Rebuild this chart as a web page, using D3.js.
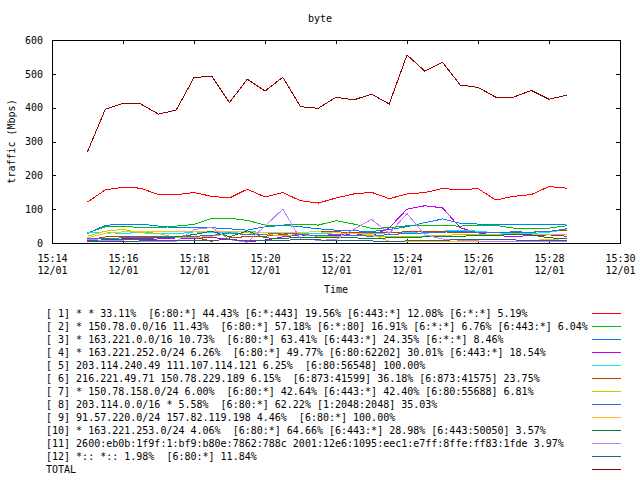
<!DOCTYPE html>
<html>
<head>
<meta charset="utf-8">
<script src="https://cdn.jsdelivr.net/npm/d3@7"></script>
<style>
  body { margin: 0; background: #fff; }
  svg { display: block; font-family: "DejaVu Sans Mono", monospace; font-size: 10px; }
  text { white-space: pre; }
</style>
</head>
<body>
<svg id="chart"></svg>
<script>
// Chart dimensions
const width = 640;
const height = 480;
const margin = { left: 52, right: 20, top: 40, bottom: 237 };

// sample times (12/01)
const times = [
  "15:15:00", "15:15:30", "15:16:00", "15:16:30", "15:17:00", "15:17:30", "15:18:00",
  "15:18:30", "15:19:00", "15:19:30", "15:20:00", "15:20:30", "15:21:00", "15:21:30",
  "15:22:00", "15:22:30", "15:23:00", "15:23:30", "15:24:00", "15:24:30", "15:25:00",
  "15:25:30", "15:26:00", "15:26:30", "15:27:00", "15:27:30", "15:28:00", "15:28:30"
];

// traffic values (Mbps)
const s1 = [121, 157, 165, 162, 143, 143, 149, 138, 133, 159, 136, 149, 125, 118, 133, 145, 150, 131, 145, 149, 161, 157, 161, 127, 138, 143, 167, 162];
const s2 = [30, 48, 50, 45, 45, 50, 55, 73, 73, 67, 53, 53, 56, 53, 66, 56, 43, 45, 51, 51, 51, 50, 52, 52, 44, 43, 44, 51];
const s3 = [28, 52, 56, 56, 50, 45, 47, 45, 42, 38, 48, 52, 48, 42, 38, 36, 34, 40, 48, 60, 71, 58, 56, 56, 56, 56, 56, 53];
const s4 = [8, 9, 9, 9, 12, 15, 14, 16, 12, 4, 8, 18, 24, 20, 22, 28, 20, 45, 100, 110, 104, 45, 30, 22, 19, 22, 24, 20];
const s5 = [30, 33, 27, 33, 28, 27, 33, 30, 30, 35, 30, 28, 28, 28, 30, 28, 28, 30, 32, 28, 35, 38, 35, 30, 28, 28, 32, 40];
const s6 = [8, 18, 20, 20, 20, 19, 18, 5, 15, 19, 20, 25, 30, 35, 33, 31, 30, 31, 33, 33, 33, 31, 31, 30, 30, 32, 35, 38];
const s7 = [20, 35, 40, 30, 28, 16, 16, 20, 28, 30, 25, 22, 25, 20, 20, 22, 22, 18, 18, 20, 22, 25, 25, 25, 25, 25, 25, 25];
const s8 = [12, 14, 15, 15, 18, 20, 20, 22, 30, 24, 26, 30, 25, 22, 25, 22, 20, 25, 28, 30, 32, 35, 32, 30, 33, 32, 34, 42];
const s9 = [15, 28, 33, 33, 33, 33, 35, 35, 33, 33, 30, 30, 32, 33, 30, 28, 25, 5, 4, 3, 3, 3, 3, 4, 5, 8, 10, 8];
const s10 = [5, 10, 12, 14, 15, 18, 25, 35, 18, 36, 15, 14, 16, 17, 16, 15, 14, 15, 16, 18, 20, 20, 22, 22, 26, 24, 15, 14];
const s11 = [10, 8, 6, 4, 3, 5, 40, 46, 10, 2, 50, 100, 12, 8, 10, 40, 70, 28, 87, 24, 12, 8, 6, 4, 4, 3, 3, 4];
const s12 = [3, 4, 5, 6, 6, 6, 8, 8, 10, 6, 6, 8, 10, 9, 8, 8, 6, 5, 6, 6, 8, 10, 10, 10, 9, 8, 8, 8];
const total = [270, 395, 413, 411, 381, 393, 489, 493, 415, 484, 449, 490, 403, 398, 431, 423, 440, 411, 556, 508, 534, 467, 460, 431, 431, 451, 425, 437];

// legend labels
const labels = [
  "[ 1] * * 33.11%  [6:80:*] 44.43% [6:*:443] 19.56% [6:443:*] 12.08% [6:*:*] 5.19%",
  "[ 2] * 150.78.0.0/16 11.43%  [6:80:*] 57.18% [6:*:80] 16.91% [6:*:*] 6.76% [6:443:*] 6.04%",
  "[ 3] * 163.221.0.0/16 10.73%  [6:80:*] 63.41% [6:443:*] 24.35% [6:*:*] 8.46%",
  "[ 4] * 163.221.252.0/24 6.26%  [6:80:*] 49.77% [6:80:62202] 30.01% [6:443:*] 18.54%",
  "[ 5] 203.114.240.49 111.107.114.121 6.25%  [6:80:56548] 100.00%",
  "[ 6] 216.221.49.71 150.78.229.189 6.15%  [6:873:41599] 36.18% [6:873:41575] 23.75%",
  "[ 7] * 150.78.158.0/24 6.00%  [6:80:*] 42.64% [6:443:*] 42.40% [6:80:55688] 6.81%",
  "[ 8] 203.114.0.0/16 * 5.58%  [6:80:*] 62.22% [1:2048:2048] 35.03%",
  "[ 9] 91.57.220.0/24 157.82.119.198 4.46%  [6:80:*] 100.00%",
  "[10] * 163.221.253.0/24 4.06%  [6:80:*] 64.66% [6:443:*] 28.98% [6:443:50050] 3.57%",
  "[11] 2600:eb0b:1f9f:1:bf9:b80e:7862:788c 2001:12e6:1095:eec1:e7ff:8ffe:ff83:1fde 3.97%",
  "[12] *:: *:: 1.98%  [6:80:*] 11.84%",
  "TOTAL"
];
const colors = ["#ff0000", "#00c000", "#0080ff", "#c000ff", "#00eeee", "#c04000", "#c8c800",
  "#4169e1", "#ffc020", "#008040", "#c080ff", "#306080", "#8b0000"];
const seriesValues = [s1, s2, s3, s4, s5, s6, s7, s8, s9, s10, s11, s12, total];

const yTicks = [0, 100, 200, 300, 400, 500, 600];

const parseT = (t) => new Date(`2000-12-01T${t}Z`);
const dates = times.map(parseT);

// svg selection
const svg = d3.select("#chart").attr("width", width).attr("height", height);

// SCALES
const xScale = d3.scaleUtc()
  .domain([parseT("15:14:00"), parseT("15:30:00")])
  .range([margin.left, width - margin.right]);

const yScale = d3.scaleLinear()
  .domain([0, 600])
  .range([height - margin.bottom, margin.top]);

const x0 = margin.left, x1 = width - margin.right;
const y0 = height - margin.bottom, y1 = margin.top;

// title and axis labels
svg.append("text").attr("x", 320).attr("y", 22).attr("text-anchor", "middle").text("byte");
svg.append("text")
  .attr("transform", `translate(15, ${(y0 + y1) / 2}) rotate(-90)`)
  .attr("text-anchor", "middle")
  .text("traffic (Mbps)");
svg.append("text").attr("x", (x0 + x1) / 2).attr("y", 293).attr("text-anchor", "middle").text("Time");

// AXES (inward ticks, mirrored like gnuplot)
const xTickVals = d3.utcMinute.every(2).range(parseT("15:14:00"), parseT("15:30:30"));
const fmtTime = d3.utcFormat("%H:%M");
const fmtDay = d3.utcFormat("%m/%d");

const xAxis = svg.append("g")
  .attr("transform", `translate(0, ${y0})`)
  .call(d3.axisBottom(xScale).tickValues(xTickVals).tickSize(-4).tickFormat(""));
xAxis.selectAll(".tick").each(function (d) {
  const t = d3.select(this).append("text").attr("fill", "#000").attr("text-anchor", "middle");
  t.append("tspan").attr("x", 0).attr("y", 19).text(fmtTime(d));
  t.append("tspan").attr("x", 0).attr("y", 31).text(fmtDay(d));
});

svg.append("g")
  .attr("transform", `translate(0, ${y1})`)
  .call(d3.axisTop(xScale).tickValues(xTickVals).tickSize(-4).tickFormat(""));

svg.append("g")
  .attr("transform", `translate(${x0}, 0)`)
  .call(d3.axisLeft(yScale).tickValues(yTicks).tickSize(-4).tickPadding(9));

svg.append("g")
  .attr("transform", `translate(${x1}, 0)`)
  .call(d3.axisRight(yScale).tickValues(yTicks).tickSize(-4).tickFormat(""));

svg.selectAll(".domain").remove();
svg.selectAll(".tick line").attr("stroke", "#000").attr("shape-rendering", "crispEdges");
svg.selectAll(".tick text").attr("font-size", "10px").attr("font-family", "DejaVu Sans Mono");

// LINES (aliased, like the gd terminal)
const line = d3.line()
  .x((d, i) => xScale(dates[i]))
  .y((d) => yScale(d));

svg.append("g")
  .selectAll("path")
  .data(seriesValues)
  .enter()
  .append("path")
  .attr("d", (d) => line(d))
  .attr("fill", "none")
  .attr("stroke", (d, i) => colors[i])
  .attr("stroke-width", 1)
  .attr("shape-rendering", "crispEdges");

// plot border
svg.append("rect")
  .attr("x", x0 + 0.5).attr("y", y1 + 0.5)
  .attr("width", x1 - x0).attr("height", y0 - y1)
  .attr("fill", "none").attr("stroke", "#000")
  .attr("shape-rendering", "crispEdges");

// LEGEND
const legendRows = labels.map((label, i) => ({ label, color: colors[i] }));

const legend = svg.append("g")
  .selectAll("g")
  .data(legendRows)
  .enter()
  .append("g")
  .attr("transform", (d, i) => `translate(0, ${313 + i * 13})`);

legend.append("text").attr("x", 46).attr("y", 4).text((d) => d.label);
legend.append("line")
  .attr("x1", 592).attr("x2", 621).attr("y1", 0.5).attr("y2", 0.5)
  .attr("stroke", (d) => d.color)
  .attr("shape-rendering", "crispEdges");
</script>
</body>
</html>
